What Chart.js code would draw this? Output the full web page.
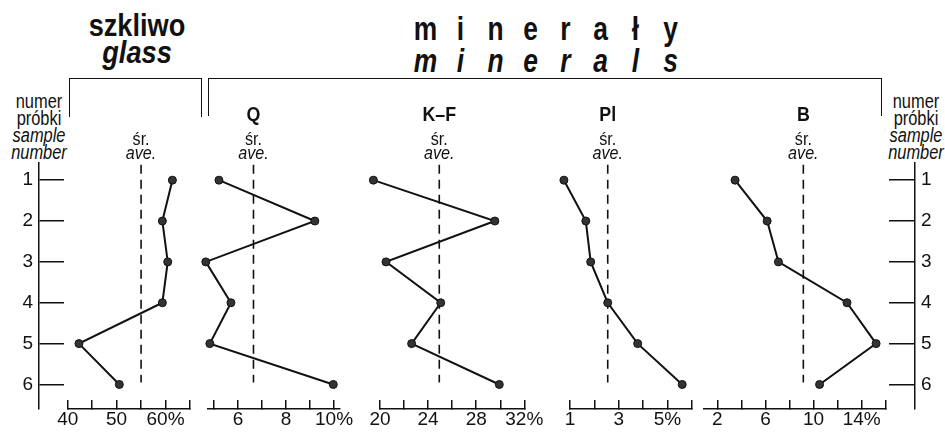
<!DOCTYPE html>
<html>
<head>
<meta charset="utf-8">
<script src="https://cdn.jsdelivr.net/npm/chart.js@4.4.1/dist/chart.umd.min.js"></script>
<style>
  body { margin: 0; background: #fff; }
  #wrap { position: relative; width: 945px; height: 432px; overflow: hidden;
          font-family: 'Liberation Sans', Arial, sans-serif; color: #111; }
  #wrap canvas { position: absolute; left: 0; top: 0; }
  .big { position: absolute; width: 140px; text-align: center; font-weight: bold; font-size: 32px; line-height: 32px;
         transform: scaleX(0.85); white-space: nowrap; }
  .spaced { position: absolute; display: flex; font-weight: bold; font-size: 33px; line-height: 33px; }
  .spaced span { display: inline-block; width: 35px; text-align: center; transform: scaleX(0.8); }
  .side { position: absolute; width: 80px; text-align: center; font-size: 20px; line-height: 17px;
          transform: scaleX(0.82); white-space: nowrap; }
  .br { position: absolute; border: 1.5px solid #111; border-bottom: none; }
</style>
</head>
<body>
<div id="wrap">
  <div class="big" style="left:67px; top:9px;">szkliwo</div>
  <div class="big" style="left:67px; top:36px; font-style:italic;">glass</div>
  <div class="spaced" style="left:408px; top:12px;"><span>m</span><span>i</span><span>n</span><span>e</span><span>r</span><span>a</span><span>ł</span><span>y</span></div>
  <div class="spaced" style="left:408px; top:44px; font-style:italic;"><span>m</span><span>i</span><span>n</span><span>e</span><span>r</span><span>a</span><span>l</span><span>s</span></div>
  <div class="br" style="left:69px; top:78px; width:131px; height:38px;"></div>
  <div class="br" style="left:208px; top:78px; width:672px; height:37px;"></div>
  <div class="side" style="left:-1px; top:93px;">numer<br>próbki<br><i>sample</i><br><i>number</i></div>
  <div class="side" style="left:876px; top:93px;">numer<br>próbki<br><i>sample</i><br><i>number</i></div>
  <canvas id="c0" width="945" height="432"></canvas>
  <canvas id="c1" width="945" height="432"></canvas>
  <canvas id="c2" width="945" height="432"></canvas>
  <canvas id="c3" width="945" height="432"></canvas>
  <canvas id="c4" width="945" height="432"></canvas>
  <canvas id="cl" width="945" height="432"></canvas>
  <canvas id="cr" width="945" height="432"></canvas>
</div>
<script>
// sample numbers (y) and the percentage
const samples = [1, 2, 3, 4, 5, 6];
const glassValues = [61.4, 59.35, 60.45, 59.35, 42.3, 50.55];
const quartzValues = [5.2, 9.2, 4.65, 5.7, 4.82, 9.97];
const kfValues = [19.45, 29.55, 20.5, 25.05, 22.63, 29.92];
const plValues = [0.75, 1.65, 1.85, 2.55, 3.78, 5.61];
const bValues = [3.47, 6.14, 7.08, 12.78, 15.2, 10.5];
const averages = [55.0, 6.64, 24.93, 2.55, 9.15];

const panelTitles = ['', 'Q', 'K\u2013F', 'Pl', 'B'];

// tick values and their labels per panel
const glassTicks = [40, 45, 50, 55, 60, 65];
const glassLabels = ['40', '', '50', '', '60%', ''];
const quartzTicks = [5, 6, 7, 8, 9, 10];
const quartzLabels = ['', '6', '', '8', '', '10%'];
const kfTicks = [20, 22, 24, 26, 28, 30, 32];
const kfLabels = ['20', '', '24', '', '28', '', '32%'];
const plTicks = [1, 2, 3, 4, 5, 6];
const plLabels = ['1', '', '3', '', '5%', ''];
const bTicks = [2, 4, 6, 8, 10, 12, 14, 16];
const bLabels = ['2', '', '6', '', '10', '', '14%', ''];

const FONT = "'Liberation Sans', Arial, sans-serif";
const INK = '#111';
const Y_MIN = 0.58, Y_MAX = 6.6;   // sample axis range
const AVE_SPAN = [0.62, 5.95];     // vertical reach of the dashed average line

// panel placement on the page: [left, right] of each x axis and its range
const panels = [
  { values: glassValues, ticks: glassTicks, labels: glassLabels, min: 40, max: 65, left: 67.7, right: 190 },
  { values: quartzValues, ticks: quartzTicks, labels: quartzLabels, min: 4.73, max: 10.25, left: 207.7, right: 340 },
  { values: kfValues, ticks: kfTicks, labels: kfLabels, min: 20, max: 32, left: 380, right: 524.3 },
  { values: plValues, ticks: plTicks, labels: plLabels, min: 1, max: 6, left: 570, right: 691.7 },
  { values: bValues, ticks: bTicks, labels: bLabels, min: 0.83, max: 16, left: 703.3, right: 885.7 },
];

// condensed header text over the average line
const headerPlugin = {
  id: 'header',
  afterDraw(chart, args, opts) {
    const ctx = chart.ctx;
    const x = chart.scales.x.getPixelForValue(opts.ave);
    ctx.save();
    ctx.translate(x, 0);
    ctx.scale(0.85, 1);
    ctx.fillStyle = INK;
    ctx.textAlign = 'center';
    ctx.textBaseline = 'alphabetic';
    if (opts.title) {
      ctx.font = 'bold 21px ' + FONT;
      ctx.fillText(opts.title, 0, 121);
    }
    ctx.font = '19px ' + FONT;
    ctx.fillText('śr.', 0, 145);
    ctx.font = 'italic 19px ' + FONT;
    ctx.fillText('ave.', 0, 159);
    ctx.restore();
  }
};

// points just past the axis ends must still be drawn
const looseArea = {
  id: 'looseArea',
  beforeDatasetsDraw(chart) {
    const a = chart.chartArea;
    chart.$savedArea = Object.assign({}, a);
    a.left -= 40; a.right += 40; a.top -= 40; a.bottom += 40;
  },
  afterDatasetsDraw(chart) {
    Object.assign(chart.chartArea, chart.$savedArea);
  }
};

panels.forEach((p, i) => {
  new Chart(document.getElementById('c' + i), {
    type: 'scatter',
    data: {
      datasets: [
        {
          data: p.values.map((v, k) => ({ x: v, y: samples[k] })),
          showLine: true,
          borderColor: INK,
          borderWidth: 2,
          pointRadius: 4,
          pointBackgroundColor: '#333',
          pointBorderColor: INK,
          pointBorderWidth: 1,
          clip: false,
        },
        {
          data: AVE_SPAN.map(y => ({ x: averages[i], y: y })),
          showLine: true,
          borderColor: INK,
          borderWidth: 1.6,
          borderDash: [9, 6],
          pointRadius: 0,
          clip: false,
        },
      ],
    },
    options: {
      responsive: false,
      animation: false,
      layout: { padding: { left: p.left, right: 945 - p.right, top: 163, bottom: 0 } },
      plugins: {
        legend: { display: false },
        tooltip: { enabled: false },
        header: { ave: averages[i], title: panelTitles[i] },
      },
      scales: {
        x: {
          type: 'linear',
          min: p.min,
          max: p.max,
          afterBuildTicks: (s) => { s.ticks = p.ticks.map(v => ({ value: v })); },
          afterFit: (s) => { s.height = 23; },
          grid: { drawOnChartArea: false, tickLength: -9, color: INK, lineWidth: 1.5 },
          border: { color: INK, width: 1.5 },
          ticks: {
            autoSkip: false,
            maxRotation: 0,
            padding: 8,
            color: INK,
            font: { family: FONT, size: 19 },
            callback: (v, idx) => p.labels[idx],
          },
        },
        y: { type: 'linear', display: false, reverse: true, min: Y_MIN, max: Y_MAX },
      },
    },
    plugins: [headerPlugin, looseArea],
  });
});

// sample-number axes at both sides
function sampleAxis(id, side) {
  const left = side === 'left';
  new Chart(document.getElementById(id), {
    type: 'scatter',
    data: { datasets: [{ data: [] }] },
    options: {
      responsive: false,
      animation: false,
      layout: { padding: left ? { left: 0, right: 945 - 64, top: 163, bottom: 23 } : { left: 889, right: 0, top: 163, bottom: 23 } },
      plugins: { legend: { display: false }, tooltip: { enabled: false } },
      scales: {
        x: { display: false },
        y: {
          type: 'linear',
          position: side,
          reverse: true,
          min: Y_MIN,
          max: Y_MAX,
          afterBuildTicks: (s) => { s.ticks = samples.map(v => ({ value: v })); },
          afterFit: (s) => { s.width = left ? 39 : 30; },
          grid: { drawOnChartArea: true, drawTicks: false, color: INK, lineWidth: 1.5 },
          border: { color: INK, width: 1.5 },
          ticks: { padding: 6, color: INK, font: { family: FONT, size: 19 } },
        },
      },
    },
  });
}
sampleAxis('cl', 'left');
sampleAxis('cr', 'right');
</script>
</body>
</html>
